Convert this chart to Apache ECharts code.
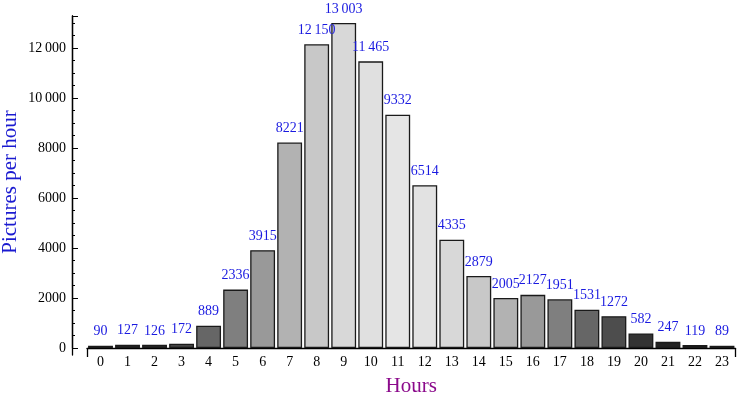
<!DOCTYPE html>
<html><head><meta charset="utf-8">
<script src="https://cdn.jsdelivr.net/npm/echarts@6/dist/echarts.min.js"></script>
<style>html,body{margin:0;padding:0;background:#fff}#c{width:750px;height:396px}</style>
</head><body><div id="c"></div>
<script>
var hours = ['0','1','2','3','4','5','6','7','8','9','10','11','12','13','14','15','16','17','18','19','20','21','22','23'];
var picturesPerHour = [90,127,126,172,889,2336,3915,8221,12150,13003,11465,9332,6514,4335,2879,2005,2127,1951,1531,1272,582,247,119,89];
var yTicks = [0,2000,4000,6000,8000,10000,12000];
var barColors = ['#1c1c1c','#262626','#2e2e2e','#444444','#666666','#7f7f7f','#999999','#b2b2b2','#c8c8c8','#d8d8d8','#e0e0e0','#e5e5e5','#e2e2e2','#d8d8d8','#c8c8c8','#b2b2b2','#999999','#7f7f7f','#666666','#4d4d4d','#333333','#222222','#1a1a1a','#121212'];

function fmt(v){
  var s = String(v);
  if (v >= 10000) s = s.replace(/(\d)(?=(\d{3})+$)/g, '$1\u2009');
  return s;
}
var FONT = '"Liberation Serif","Times New Roman",serif';
var chart = echarts.init(document.getElementById('c'), null, {renderer:'canvas'});
chart.setOption({
  animation:false,
  grid:[
    {left:87, right:14.5, top:16, bottom:48, containLabel:false, outerBoundsMode:'none'},
    {left:87, right:14.5, top:16, bottom:41, containLabel:false, outerBoundsMode:'none'}
  ],
  xAxis:[
    {type:'category', data:hours, gridIndex:0, boundaryGap:true,
     axisLine:{show:true, onZero:false, lineStyle:{color:'#000', width:1.3}},
     axisTick:{show:false},
     axisLabel:{color:'#000', fontFamily:FONT, fontSize:14, margin:7},
     name:'Hours', nameLocation:'middle', nameGap:28,
     nameTextStyle:{color:'#8b0a8b', fontFamily:FONT, fontSize:21}},
    {type:'value', gridIndex:0, min:0, max:1, interval:1, position:'bottom',
     axisLine:{show:false, onZero:false}, splitLine:{show:false},
     axisTick:{show:true, length:9, lineStyle:{color:'#000', width:1.3}},
     axisLabel:{show:false}},
    {type:'value', gridIndex:1, show:false, min:0, max:1, axisLine:{onZero:false}}
  ],
  yAxis:[
    {type:'value', gridIndex:0, min:0, max:13280, interval:2000, offset:15,
     axisLine:{show:true, onZero:false, lineStyle:{color:'#000', width:1.3}},
     axisTick:{show:true, inside:true, length:6, lineStyle:{color:'#000', width:1}},
     minorTick:{show:true, splitNumber:4, length:3, lineStyle:{color:'#000', width:1}},
     splitLine:{show:false},
     axisLabel:{color:'#000', fontFamily:FONT, fontSize:14, margin:6,
       formatter:function(v){ return yTicks.indexOf(v) >= 0 ? fmt(v) : ''; }},
     name:'Pictures per hour', nameLocation:'middle', nameGap:51, nameRotate:90,
     nameMoveOverlap:false,
     nameTextStyle:{color:'#1a1ad0', fontFamily:FONT, fontSize:21}},
    {type:'value', gridIndex:1, min:-280, max:13280, offset:15,
     axisLine:{show:true, onZero:false, lineStyle:{color:'#000', width:1.3}},
     axisTick:{show:false}, axisLabel:{show:false}, splitLine:{show:false}}
  ],
  series:[{
    type:'bar', xAxisIndex:0, yAxisIndex:0,
    barCategoryGap:'8%',
    data:picturesPerHour.map(function(v,i){ return {value:v, itemStyle:{color:barColors[i]}}; }),
    itemStyle:{borderColor:'#1a1a1a', borderWidth:1.3},
    label:{show:true, position:'top', distance:7, color:'#1a1ae0', fontFamily:FONT, fontSize:14,
      formatter:function(p){ return fmt(p.value); }}
  }]
});
</script></body></html>
